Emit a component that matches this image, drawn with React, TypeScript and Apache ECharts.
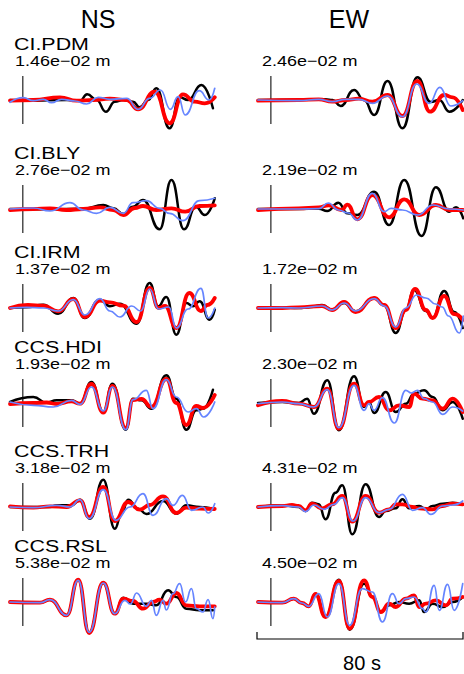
import React, { useEffect, useRef } from "react";
import * as echarts from "echarts";

type P = [number, number][];

const stations = ["CI.PDM", "CI.BLY", "CI.IRM", "CCS.HDI", "CCS.TRH", "CCS.RSL"];
const nsAmps = ["1.46e\u221202 m", "2.76e\u221202 m", "1.37e\u221202 m", "1.93e\u221202 m", "3.18e\u221202 m", "5.38e\u221202 m"];
const ewAmps = ["2.46e\u221202 m", "2.19e\u221202 m", "1.72e\u221202 m", "2.30e\u221202 m", "4.31e\u221202 m", "4.50e\u221202 m"];
const components = ["NS", "EW"];
const scaleLabel = "80 s";
const windowSeconds = 80;
const originSecond = 5;

// time (s), normalized amplitude
const pdmNsBlack: P = [[0,0],[9.1,-0.7],[22,0],[27.3,-0.7],[30.1,5.7],[33.8,0],[37.4,-11.7],[40.9,-1.7],[44.2,0],[48,-1.7],[50.6,-7.3],[53.9,0],[57.1,11.7],[62.3,-28.3],[66.2,2.7],[69.5,0],[74.7,15],[79.2,-8.3]];
const pdmNsRed: P = [[0,-0.7],[9.1,0],[19.5,2.7],[26,-0.7],[32.5,0],[39,1.3],[45.5,0],[50,-9.3],[56.5,8.3],[62.3,-23.3],[67.5,5.7],[72.1,-1.7],[76,-3.3],[79.9,2.7]];
const pdmNsBlue: P = [[0,-2.3],[5.2,2.3],[9.1,-0.7],[13,0.7],[16.2,-2.7],[20.1,0.7],[25.3,-1],[29.9,-4],[34.4,2.7],[39,0.7],[45.5,1.7],[50,-9.3],[54.5,1.7],[58.7,10],[62.6,-9.3],[65.6,3.3],[68.4,-15],[73.8,9.3],[77.7,0],[79.9,11.7]];
const pdmEwBlack: P = [[0,0],[20,0.3],[26.2,0.7],[29,0],[32.1,-6],[37.3,10],[41.2,0],[45.1,-15],[50.3,19],[56.1,-28.3],[61.9,22.7],[67.1,-2],[70.4,0],[74.3,-11.7],[79.5,0]];
const pdmEwRed: P = [[0,-0.7],[15.8,0],[23.6,0.7],[28.8,-1.7],[34,0],[39.2,1.3],[44.4,-1.7],[50.3,5],[56.1,-16],[61.9,19],[66.8,-11.7],[72.3,5],[75.6,2.7],[79.5,-10]];
const pdmEwBlue: P = [[0,0],[15.8,-0.7],[23.6,0.7],[28.8,-1.7],[34,0.7],[39.2,0.7],[44.4,-3.3],[50.3,4],[56.1,-16.7],[61.6,16],[66.5,-3.3],[70.6,12.7],[74.9,-6],[79.5,-0.7]];

const blyNsBlack: P = [[0,0],[15.6,-0.3],[28.6,0.3],[36.4,4],[40.3,0.7],[44.2,-5],[48,2.3],[51.9,9],[58.4,-20.3],[63,29],[67.9,-20.3],[72.5,2.3],[76,-6],[79.9,10.7]];
const blyNsRed: P = [[0,-1],[9.1,0],[15.6,0.7],[22,-1],[28.6,0],[35.1,1.7],[40.3,-1],[44.2,-6],[48.7,1],[51.9,3],[57.1,-1],[63,0.7],[68.4,-2.7],[74,3],[79.9,3.7]];
const blyNsBlue: P = [[0,0],[9.1,1],[15.6,-2],[23.4,6.3],[28.6,-1],[33.8,-4.3],[39,1.7],[44.2,-4.3],[48,6.3],[53.2,8.3],[58.4,0.7],[62.3,-4.3],[67.5,-11.7],[74,8.3],[79.9,10.7]];
const blyEwBlack: P = [[0,0],[15.8,0],[23.6,0.3],[26.9,-2],[31.2,6.3],[34.7,-4.3],[38.6,-6],[45.1,17.3],[50.9,-16],[56.8,29],[63.5,-27],[69.1,21.7],[74.3,-2.7],[76.9,1.7],[79.7,-9.3]];
const blyEwRed: P = [[0,-1],[15.8,0.7],[23.6,1.7],[27.5,3.7],[32.5,-1],[34.7,4.3],[38.6,-10.3],[44.4,14],[50.9,-8.3],[56.8,9.7],[62.6,-6],[69.1,4],[74.3,-1],[79.7,-1]];
const blyEwBlue: P = [[0,0],[15.8,0],[23.6,0.3],[27.3,6],[31.2,-1],[35,-4],[38.6,-11],[44.4,15.7],[49,-2.7],[51.7,0.7],[56.1,-1],[62,-6],[68,4],[74.3,0],[79.7,-1]];

const irmNsBlack: P = [[0,0],[6.5,0.7],[13,3.3],[18.8,-5.7],[24.7,10],[29.2,-10],[35.1,8.3],[39,1.7],[42.9,4.3],[49.4,-15.7],[54.5,25],[57.8,1.7],[61,11],[64.9,-26.7],[68.8,5],[71.4,1.7],[74,6.7],[77.9,-11.7],[79.9,-1.7]];
const irmNsRed: P = [[0,0],[7,3],[13,2.3],[18.8,-3.3],[24.7,9],[29.2,-9],[35.1,7.3],[39,5.7],[44.2,2.3],[49.4,-14],[54.5,20],[58,0],[60.5,2],[64.9,-20],[70,15],[74.5,-3],[77,3],[79.9,10]];
const irmNsBlue: P = [[0,0],[6.5,0.7],[13,0],[18.8,-3],[24.7,8.3],[29.2,-7],[35.1,9.3],[39,-3],[42.9,-9],[47.5,2],[51,-3],[54.5,19],[58,-1],[62,1],[64.9,-20],[69.5,-1],[74.5,19.7],[77.3,-10],[79.9,0]];
const irmEwBlack: P = [[0,0],[9.4,0.7],[15.8,0],[20.5,1],[24.9,3],[28.8,-2],[33.4,5],[37.9,-3.3],[45.1,10],[49,3],[53.5,-25],[57.4,-2],[60.6,18],[65.2,-3],[67.8,-10],[72.3,17],[76.2,-4],[79.5,-20]];
const irmEwRed: P = [[0,0],[9.4,0],[15.8,0.7],[24.9,2],[28.8,-2],[33.4,6],[37.9,-4],[45.1,10],[49,3],[53.5,-20],[57.4,-2],[61,19],[65.2,-2],[67.8,-10],[72.3,12],[76.2,-6],[79.5,-12]];
const irmEwBlue: P = [[0,0],[9.4,0.3],[15.8,0],[24.9,2],[28.8,-2],[33.4,5],[37.9,-3],[45.1,9.3],[49,2],[53.5,-19],[57.4,0],[61.6,13],[65.2,10],[69,4],[71.5,1],[74,-8],[78.2,-25],[79.7,-8]];

const hdiNsBlack: P = [[0,1],[9.1,6],[14.3,0.3],[18.2,2.7],[24,2.7],[27.3,-0.7],[31.8,21],[36.4,-9],[40,19.3],[45.2,-26.7],[48,4.3],[51.3,2.7],[55.2,-5.7],[61,27.7],[64.9,4.3],[68.8,-26.7],[72.7,-7.3],[75.3,-5.7],[79.2,13.3]];
const hdiNsRed: P = [[0,-1],[9.1,0],[14.3,0.5],[18.2,-1],[24,1.7],[27.3,-0.7],[31.8,19],[36.4,-9.7],[40,17],[45.2,-25],[48,3],[51.3,4],[55.2,-4],[61,24],[64.9,0],[68.8,-22],[72.7,-3],[75.3,-5],[79.9,8]];
const hdiNsBlue: P = [[0,1],[9.1,-2.3],[16.9,-4],[24,2.7],[27.3,-1.3],[31.8,16],[36.4,-8],[40,16],[45.2,-26.7],[48,3.3],[53.2,12.7],[55.8,-5.7],[61,23.3],[64.9,6],[69.5,-9],[72.7,-5.7],[75.6,-14],[79.9,1]];
const hdiEwBlack: P = [[0,0],[9.4,1],[15.8,0],[19.1,4.3],[21.7,-10.7],[26.9,22.7],[31.4,-27.3],[37.3,26.7],[41.2,-4],[43.1,1],[45.1,-10],[49.6,11],[53.5,-9],[57.4,-0.7],[60.6,9.3],[64.5,12.7],[67.8,6],[71.7,-7.3],[75.6,1],[79.5,-15.7]];
const hdiEwRed: P = [[0,-2.3],[9.4,2],[15.8,-0.7],[21.7,-4],[26.9,14.3],[31.4,-25.7],[37.3,19.3],[41.2,-2.3],[43.1,1],[47,6],[50.9,-7.3],[54.8,-2.3],[58.7,-4],[60.6,9.3],[63.9,4.3],[67.8,2.7],[71.7,-5.7],[75.6,4.3],[79.5,-9]];
const hdiEwBlue: P = [[0,-0.7],[9.4,1],[15.8,-0.7],[21.7,-4],[26.9,13.3],[31.4,-24.7],[37.3,17.7],[41.2,-7.3],[43.1,-0.7],[45.1,-7.3],[48.3,5.3],[52.9,-20],[57.4,12.7],[59.5,10],[61.9,12.7],[64.5,4.3],[67.8,1],[71.7,-11.3],[75.6,-4],[79.5,-8]];

const trhNsBlack: P = [[0,0],[15.6,0],[18.2,1.7],[24,1.7],[27.3,7.3],[31.2,-11.7],[36.4,27.3],[40.9,-21.7],[43.5,-6.7],[46.1,7.3],[50,-1.7],[53.2,-7],[59.7,6],[64.9,-6.7],[68.8,1.7],[74,0],[79.2,-1.7]];
const trhNsRed: P = [[0,0.7],[9.1,-0.7],[15.6,0.7],[22.1,0],[27.3,6.7],[30.9,-10],[36.4,20],[40.9,-14],[46.1,5],[50.6,-2.7],[54.5,2],[59.7,10.7],[64.9,-6],[68.8,-0.7],[74,-1.7],[79.9,-2]];
const trhNsBlue: P = [[0,0],[9.1,-0.7],[18.2,1.7],[23.4,0],[27.3,7.3],[30.9,-11.7],[36.4,17.3],[41.3,-13.3],[46.8,0],[51.9,13.3],[55.8,-8.3],[61,8.3],[63.6,1.7],[67.3,11.7],[70.8,-3.3],[75.3,0],[77.3,-6],[79.9,3.3]];
const trhEwBlack: P = [[0,0],[9.4,1.7],[15.8,0],[18.4,-4],[21,4.3],[23.6,2.7],[26.2,-12.3],[30.1,14.3],[32.7,21.7],[36.6,-27.3],[41.8,22.7],[47,-10],[49.6,-4],[53.5,-1.3],[56.1,7.7],[58.7,-1.3],[62.6,1],[65.2,-2.3],[67.8,1],[71.7,3.3],[75.6,4.3],[79.5,2.7]];
const trhEwRed: P = [[0,0],[9.4,1],[13.2,2],[15.8,1],[18.4,-3.3],[21,3.3],[24.9,-1.3],[28.8,2.7],[32.7,11],[36.6,-14.7],[41.8,11],[47,-5.7],[50.9,-2.3],[53.5,2.7],[56.1,2.7],[60,0],[62.6,-1.3],[67.8,-2.3],[71.7,1],[75.6,3.3],[79.5,2.7]];
const trhEwBlue: P = [[0,0],[9.4,1.3],[15.8,0],[18.4,-4.7],[21.7,2],[25.6,-2.3],[29.5,2.7],[32.7,9.3],[36.9,-14],[41.8,9.3],[47,-5.7],[50.9,-2.3],[56.1,12.7],[60,-3.3],[63.9,-0.7],[67.1,-7.3],[71.7,1],[75.6,2],[79.5,6]];

const rslNsBlack: P = [[0,0],[11.7,-0.7],[15.6,2.3],[22.1,-13.3],[26.6,22.3],[30.9,-31],[36.4,19.3],[40.9,-11.7],[44.2,4.3],[48,-1.7],[53.2,-1.7],[57.1,-3.3],[61.7,11.7],[64.9,5],[68.8,-6.7],[74,-8.3],[79.2,-8.3]];
const rslNsRed: P = [[0,0],[11.7,-0.7],[15.6,2.3],[22.1,-13.3],[26.6,22.3],[30.9,-31],[36.4,19.3],[40.9,-11.7],[44.2,3.3],[48,1],[51.9,-6.7],[55.8,0],[58.4,2.3],[61,-1.7],[64.9,9],[68.8,-3.3],[74,-4.3],[79.9,-4.3]];
const rslNsBlue: P = [[0,0],[11.7,-0.7],[15.6,2.3],[22.1,-13.3],[26.6,21.7],[30.9,-30.3],[36.4,19],[40.9,-11.7],[44.8,1.7],[47,-2],[49.4,9],[53.2,-4.3],[55.2,1.7],[57.1,-13.3],[59.7,1.7],[61,-8],[63.6,8.3],[66.2,18.3],[68.5,0],[70.8,13.3],[72.7,-6.7],[75.3,-10],[77.3,2.3],[79.2,-16.7],[79.9,-5]];
const rslEwBlack: P = [[0,0],[9.4,-0.7],[13.9,3.3],[17.1,-1],[19.7,-4.3],[22.3,8.3],[26.2,-15],[31.4,22.3],[35.6,-27.7],[41.2,18.3],[44.4,5],[47.7,-10],[50.9,-3.3],[54.8,0],[58.7,-1.7],[62.6,1.7],[64.5,-10],[67.8,-1.7],[71.7,-5],[75.6,0],[79.5,5]];
const rslEwRed: P = [[0,0],[9.4,-0.7],[13.9,3.3],[17.1,-1],[19.7,-4.3],[22.3,8],[26.2,-15],[31.4,21],[35.6,-26.7],[41.2,21.7],[44.4,5],[47.7,-10],[50.9,-1.7],[53.5,-5],[57.4,3.3],[60.6,6.7],[62.6,-5],[65.2,-1.7],[69.1,1.7],[73,-3.3],[75.6,3.3],[79.5,5]];
const rslEwBlue: P = [[0,0],[9.4,-0.7],[13.9,3.3],[17.1,-1],[19.7,-4.3],[23.6,8.3],[26.9,-15],[31.4,18.3],[35.6,-23.3],[40.5,13.3],[44.4,10],[48.3,-20],[52.2,8.3],[54.8,-1.7],[57.4,3.3],[60.6,5],[63.9,-6.7],[65.2,-10],[68.4,16.7],[70.4,-8.3],[73.6,17.7],[76.2,-8.3],[79.5,18.3]];

// [row][column] -> [black, red, blue]
const panels: P[][][] = [
  [[pdmNsBlack, pdmNsRed, pdmNsBlue], [pdmEwBlack, pdmEwRed, pdmEwBlue]],
  [[blyNsBlack, blyNsRed, blyNsBlue], [blyEwBlack, blyEwRed, blyEwBlue]],
  [[irmNsBlack, irmNsRed, irmNsBlue], [irmEwBlack, irmEwRed, irmEwBlue]],
  [[hdiNsBlack, hdiNsRed, hdiNsBlue], [hdiEwBlack, hdiEwRed, hdiEwBlue]],
  [[trhNsBlack, trhNsRed, trhNsBlue], [trhEwBlack, trhEwRed, trhEwBlue]],
  [[rslNsBlack, rslNsRed, rslNsBlue], [rslEwBlack, rslEwRed, rslEwBlue]],
];

const FONT = '"Liberation Sans", Arial, Helvetica, sans-serif';
const baselines = [100, 209, 308, 403, 507, 602];
const colLeft = [10, 258];
const colWidth = [205, 206];
const half = 40;
const traceColors = ["#000000", "#ff0000", "#6685ff"];
const traceWidths = [2.5, 3.8, 1.7];

export default function App() {
  const ref = useRef<HTMLDivElement>(null);
  useEffect(() => {
    document.body.style.margin = "0";
    const chart = echarts.init(ref.current!, null, { renderer: "svg" });
    const grid: any[] = [];
    const xAxis: any[] = [];
    const yAxis: any[] = [];
    const series: any[] = [];
    const graphic: any[] = [];

    panels.forEach((row, r) => {
      row.forEach((traces, c) => {
        const g = grid.length;
        grid.push({ left: colLeft[c], width: colWidth[c], top: baselines[r] - half, height: half * 2 });
        xAxis.push({ gridIndex: g, type: "value", min: 0, max: windowSeconds, show: false });
        yAxis.push({ gridIndex: g, type: "value", min: -half, max: half, show: false });
        series.push({
          type: "line", xAxisIndex: g, yAxisIndex: g, symbol: "none", silent: true,
          data: [[originSecond, -24], [originSecond, 24]],
          lineStyle: { color: "#222", width: 1.2 },
        });
        traces.forEach((d, k) => {
          series.push({
            type: "line", xAxisIndex: g, yAxisIndex: g, symbol: "none", silent: true,
            data: d, smooth: 0.5, smoothMonotone: "x", clip: false,
            lineStyle: { color: traceColors[k], width: traceWidths[k], cap: "round", join: "round" },
          });
        });
      });
      graphic.push({ type: "text", x: 14, y: baselines[r] - 56, scaleX: 1.26,
        style: { text: stations[r], font: `17px ${FONT}`, fill: "#000", textAlign: "left", textVerticalAlign: "middle" } });
      graphic.push({ type: "text", x: 15, y: baselines[r] - 39, scaleX: 1.2,
        style: { text: nsAmps[r], font: `15px ${FONT}`, fill: "#000", textAlign: "left", textVerticalAlign: "middle" } });
      graphic.push({ type: "text", x: 262, y: baselines[r] - 39, scaleX: 1.2,
        style: { text: ewAmps[r], font: `15px ${FONT}`, fill: "#000", textAlign: "left", textVerticalAlign: "middle" } });
    });

    graphic.push({ type: "text", x: 98, y: 19,
      style: { text: components[0], font: `25px ${FONT}`, fill: "#000", textAlign: "center", textVerticalAlign: "middle" } });
    graphic.push({ type: "text", x: 349, y: 19,
      style: { text: components[1], font: `25px ${FONT}`, fill: "#000", textAlign: "center", textVerticalAlign: "middle" } });
    graphic.push({ type: "polyline", shape: { points: [[257, 632], [257, 639], [463, 639], [463, 632]] },
      style: { stroke: "#000", lineWidth: 1.2, fill: "none" } });
    graphic.push({ type: "text", x: 362, y: 663,
      style: { text: scaleLabel, font: `20px ${FONT}`, fill: "#000", textAlign: "center", textVerticalAlign: "middle" } });

    chart.setOption({ animation: false, grid, xAxis, yAxis, series, graphic });
    return () => chart.dispose();
  }, []);
  return <div ref={ref} style={{ width: 464, height: 674 }} />;
}
